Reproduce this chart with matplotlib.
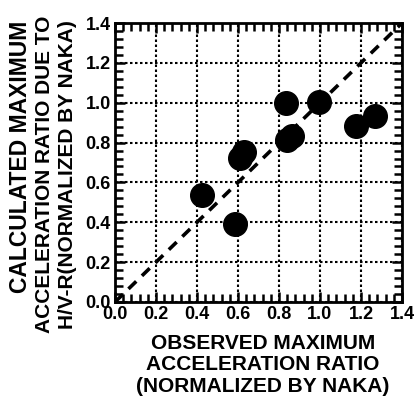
import numpy as np
import matplotlib
matplotlib.use('Agg')
import matplotlib.pyplot as plt
from matplotlib.ticker import MultipleLocator

plt.rcParams['font.family'] = ['Liberation Sans', 'DejaVu Sans']
plt.rcParams['font.weight'] = 'bold'

# observed vs calculated max acceleration ratio
observed = [0.423, 0.586, 0.612, 0.628, 0.832, 0.840, 0.864, 0.995, 1.174, 1.268]
calculated = [0.535, 0.391, 0.721, 0.751, 0.998, 0.813, 0.835, 1.003, 0.881, 0.933]
ticks = [0.0, 0.2, 0.4, 0.6, 0.8, 1.0, 1.2, 1.4]

fig = plt.figure(figsize=(4.17, 3.97), dpi=100)
ax = fig.add_axes([115/417, 95/397, 287/417, 279/397])

ax.plot([0, 1.4], [0, 1.4], color='k', lw=2.6, ls=(0, (3, 2.2)), zorder=2)
ax.plot(observed, calculated, 'o', color='k', markersize=17, zorder=3)

ax.set_xlim(0, 1.4)
ax.set_ylim(0, 1.4)
ax.set_xticks(ticks)
ax.set_yticks(ticks)
ax.set_xticklabels(['%.1f' % t for t in ticks])
ax.set_yticklabels(['%.1f' % t for t in ticks])
ax.xaxis.set_minor_locator(MultipleLocator(0.04))
ax.yaxis.set_minor_locator(MultipleLocator(0.04))
ax.tick_params(which='both', direction='in', top=True, right=True, width=1.8, color='k')
ax.tick_params(which='major', length=7, pad=3, labelsize=13)
ax.tick_params(which='minor', length=6)
ax.grid(True, which='major', color='k', ls=(0, (1.2, 1.2)), lw=1.5)
for s in ax.spines.values():
    s.set_linewidth(2)

fig.text(263/417, 1 - 365/397, 'OBSERVED MAXIMUM\nACCELERATION RATIO\n(NORMALIZED BY NAKA)',
         ha='center', va='center', fontsize=15, fontweight='bold', linespacing=1.15)

# y label, three rotated lines
fig.text(21/417, 1 - 157/397, 'CALCULATED MAXIMUM', rotation=90,
         ha='center', va='center', fontsize=16.5, fontweight='bold')
fig.text(45/417, 1 - 174/397, 'ACCELERATION RATIO DUE TO', rotation=90,
         ha='center', va='center', fontsize=15, fontweight='bold')
fig.text(68/417, 1 - 175/397, 'H/V-R(NORMALIZED BY NAKA)', rotation=90,
         ha='center', va='center', fontsize=15, fontweight='bold')

fig.savefig('out.png', dpi=100)
